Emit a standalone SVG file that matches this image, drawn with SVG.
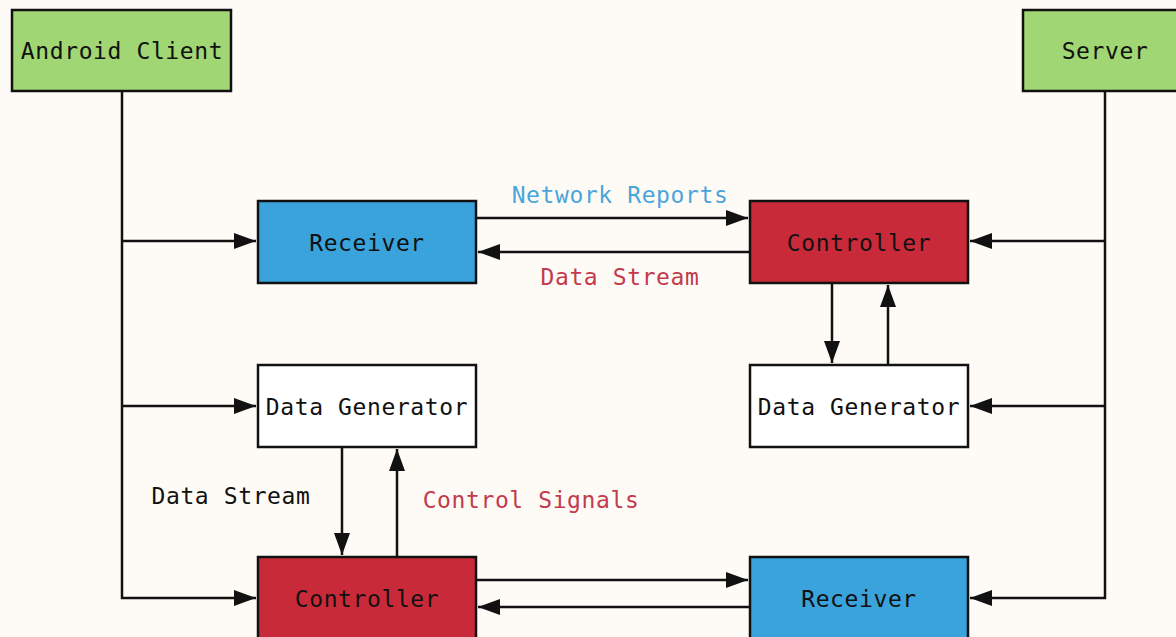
<svg xmlns="http://www.w3.org/2000/svg" width="1176" height="637" viewBox="0 0 1176 637">
<style>
.bg{fill:#fefbf6}
.box{stroke:#111;stroke-width:2.5}
.green{fill:#a0d673}
.blue{fill:#3aa3dc}
.red{fill:#c92a39}
.white{fill:#ffffff}
text{font-family:"DejaVu Sans Mono","Liberation Mono",monospace;font-size:23px;letter-spacing:0.6px;text-anchor:middle;dominant-baseline:central;fill:#111}
.lblue{fill:#4aa6da}
.lred{fill:#c23a4c}
.conn{stroke:#111;stroke-width:2.5;fill:none}
</style>
<defs>
<marker id="ah" markerUnits="userSpaceOnUse" markerWidth="24" markerHeight="16" refX="22" refY="8" orient="auto">
<path d="M0,0 L22,8 L0,16 Z" fill="#111"/>
</marker>
</defs>
<rect class="bg" x="0" y="0" width="1176" height="637"/>
<g id="connectors">
<path class="conn" d="M122,91 V598 H256" marker-end="url(#ah)"/>
<path class="conn" d="M122,241 H256" marker-end="url(#ah)"/>
<path class="conn" d="M122,406 H256" marker-end="url(#ah)"/>
<path class="conn" d="M1105,91 V598 H970" marker-end="url(#ah)"/>
<path class="conn" d="M1105,241 H970" marker-end="url(#ah)"/>
<path class="conn" d="M1105,406 H970" marker-end="url(#ah)"/>
<path class="conn" d="M476,218 H748" marker-end="url(#ah)"/>
<path class="conn" d="M750,252 H478" marker-end="url(#ah)"/>
<path class="conn" d="M832,283 V363" marker-end="url(#ah)"/>
<path class="conn" d="M888,365 V285" marker-end="url(#ah)"/>
<path class="conn" d="M342,447 V555" marker-end="url(#ah)"/>
<path class="conn" d="M397,557 V449" marker-end="url(#ah)"/>
<path class="conn" d="M476,580 H748" marker-end="url(#ah)"/>
<path class="conn" d="M750,607 H478" marker-end="url(#ah)"/>
<text class="lblue" x="620" y="195">Network Reports</text>
<text class="lred" x="620" y="277">Data Stream</text>
<text x="231" y="496">Data Stream</text>
<text class="lred" x="531" y="500">Control Signals</text>
</g>
<g id="android-client">
<rect class="box green" x="12" y="10" width="219" height="81"/>
<text x="122" y="51">Android Client</text>
</g>
<g id="server">
<rect class="box green" x="1023" y="10" width="164" height="81"/>
<text x="1105" y="51">Server</text>
</g>
<g id="receiver-top">
<rect class="box blue" x="258" y="201" width="218" height="82"/>
<text x="367" y="243">Receiver</text>
</g>
<g id="controller-top">
<rect class="box red" x="750" y="201" width="218" height="82"/>
<text x="859" y="243">Controller</text>
</g>
<g id="data-generator-left">
<rect class="box white" x="258" y="365" width="218" height="82"/>
<text x="367" y="407">Data Generator</text>
</g>
<g id="data-generator-right">
<rect class="box white" x="750" y="365" width="218" height="82"/>
<text x="859" y="407">Data Generator</text>
</g>
<g id="controller-bottom">
<rect class="box red" x="258" y="557" width="218" height="84"/>
<text x="367" y="599">Controller</text>
</g>
<g id="receiver-bottom">
<rect class="box blue" x="750" y="557" width="218" height="84"/>
<text x="859" y="599">Receiver</text>
</g>
</svg>
